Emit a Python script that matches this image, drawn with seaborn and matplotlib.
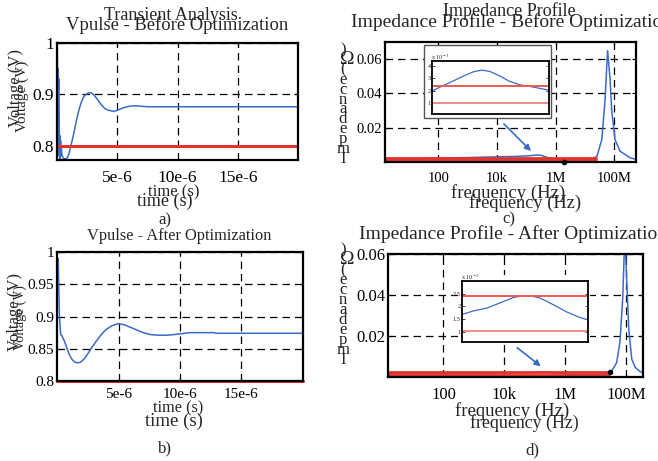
import numpy as np
import pandas as pd
import seaborn as sns
import matplotlib.pyplot as plt
from matplotlib.patches import Rectangle, FancyArrowPatch
from matplotlib.ticker import NullLocator

# ---- transient response (time in us, voltage in V)
t_before = [0, 0.03, 0.06, 0.1, 0.13, 0.16, 0.2, 0.23, 0.26, 0.3, 0.33, 0.36, 0.4, 0.45, 0.5,
            0.6, 0.75, 0.9, 1.05, 1.2, 1.4, 1.6, 1.8, 2.0, 2.2, 2.4, 2.6, 2.85, 3.1, 3.4, 3.7,
            4.0, 4.3, 4.75, 5.1, 5.5, 6.0, 6.5, 7.0, 7.6, 10, 15, 20]
v_before = [0.99, 0.99, 0.78, 0.95, 0.91, 0.93, 0.80, 0.82, 0.77, 0.81, 0.78, 0.80, 0.785, 0.78, 0.777,
            0.775, 0.775, 0.778, 0.79, 0.805, 0.825, 0.848, 0.868, 0.884, 0.895, 0.900, 0.903, 0.903, 0.898, 0.889, 0.879,
            0.872, 0.869, 0.867, 0.870, 0.874, 0.877, 0.878, 0.877, 0.876, 0.876, 0.876, 0.876]
t_after = [0, 0.1, 0.15, 0.2, 0.25, 0.3, 0.4, 0.6, 0.8, 1.0, 1.2, 1.4, 1.65, 1.9, 2.2, 2.5, 2.8,
           3.2, 3.6, 4.0, 4.5, 5.0, 5.5, 6.0, 6.5, 7.0, 7.6, 8.2, 9.0, 10.0, 10.8, 12.7, 13.0, 20.0]
v_after = [0.99, 0.99, 0.94, 0.90, 0.885, 0.872, 0.87, 0.862, 0.851, 0.841, 0.834, 0.830, 0.828, 0.829, 0.834, 0.842, 0.851,
           0.862, 0.872, 0.880, 0.886, 0.889, 0.887, 0.883, 0.879, 0.875, 0.872, 0.871, 0.871, 0.873, 0.875, 0.875, 0.874, 0.874]
v_limit = 0.8

# ---- impedance profile (Hz, Ohm)
freq_before = [1.5, 10, 100, 1e3, 1e4, 5e4, 1.2e5, 2e5, 2.5e5, 3.2e5, 4.5e5, 1e6, 3e6, 1e7, 2e7,
               2.6e7, 3.8e7, 4.9e7, 6e7, 7.3e7, 8.3e7, 1.08e8, 1.6e8, 3.5e8, 5.6e8]
z_before = [0.0019, 0.0020, 0.0022, 0.0026, 0.0030, 0.0033, 0.0036, 0.0040, 0.0041, 0.0039, 0.0030, 0.0015, 0.0008, 0.0012, 0.0022,
            0.0034, 0.013, 0.036, 0.065, 0.048, 0.030, 0.013, 0.0063, 0.0025, 0.0015]
freq_after = [1.5, 100, 1e4, 1e5, 2e5, 3e5, 1e6, 3e6, 1e7, 2e7, 3.4e7, 4.9e7, 6.3e7, 7.8e7, 9.1e7,
              1.05e8, 1.23e8, 1.54e8, 2.0e8, 2.9e8, 4.2e8]
z_after = [0.0016, 0.0017, 0.0019, 0.0023, 0.0024, 0.0023, 0.0016, 0.0010, 0.0009, 0.0015, 0.003, 0.007, 0.017, 0.039, 0.07,
           0.047, 0.023, 0.0087, 0.0047, 0.0026, 0.0015]
z_limits_before = [0.0024, 0.001]
z_limits_after = [0.0026, 0.0011]

# ---- zoomed insets (Hz, x1e-3 Ohm)
inset_freq_before = [1.0e5, 1.28e5, 1.62e5, 2.08e5, 2.42e5, 2.70e5, 2.98e5, 3.32e5, 3.66e5, 4.0e5, 4.34e5, 4.68e5, 5.0e5]
inset_z_before = [1.95, 2.29, 2.66, 3.18, 3.53, 3.66, 3.55, 3.18, 2.74, 2.47, 2.34, 2.18, 2.03]
inset_freq_after = [1.0e5, 1.35e5, 1.78e5, 2.21e5, 2.63e5, 2.95e5, 3.16e5, 3.48e5, 3.91e5, 4.33e5, 4.71e5, 5.0e5]
inset_z_after = [1.68, 1.82, 1.93, 2.14, 2.35, 2.42, 2.42, 2.33, 2.06, 1.78, 1.58, 1.47]
inset_limits_before = [2.4, 1.0]
inset_limits_after = [2.4, 1.05]

sns.set_theme(style="ticks")
plt.rcParams['font.family'] = ['Liberation Serif', 'DejaVu Serif']
plt.rcParams['mathtext.fontset'] = 'stix'

W, H = 658, 461
BLUE = '#3a6bc6'
RED = '#e2332b'
fig = plt.figure(figsize=(W / 100, H / 100), dpi=100)
fig.patch.set_facecolor('white')


def box(l, t, r, b):
    return [l / W, 1 - b / H, (r - l) / W, (b - t) / H]


def ftxt(x, y, s, size=12, **kw):
    fig.text(x / W, 1 - y / H, s, ha='center', va='center', fontsize=size, **kw)


def style(ax, size, xpad=6):
    for s in ax.spines.values():
        s.set_color('black')
        s.set_linewidth(1.6)
    ax.grid(True, color='black', linestyle=(0, (6, 4)), linewidth=0.9)
    ax.tick_params(direction='in', length=3, width=0.8, pad=2, labelsize=size,
                   top=True, right=True, colors='black')
    ax.tick_params(axis='x', pad=xpad)
    ax.set_facecolor('white')
    ax.set_xlabel('')
    ax.set_ylabel('')


# ---- a) transient before
ax_a = fig.add_axes(box(57, 43, 298, 160))
sns.lineplot(x=np.array(t_before) * 1e-6, y=v_before, ax=ax_a, color=BLUE, linewidth=1.1, estimator=None)
ax_a.axhline(v_limit, color=RED, linewidth=2.2)
ax_a.set_xlim(0, 2e-5)
ax_a.set_ylim(0.7725, 1.0)
ax_a.set_xticks([5e-6, 10e-6, 15e-6], labels=['5e-6', '10e-6', '15e-6'])
ax_a.set_yticks([0.8, 0.9, 1.0], labels=['0.8', '0.9', '1'])
style(ax_a, 12.5, xpad=7)

# ---- b) transient after
ax_b = fig.add_axes(box(57, 252, 303, 381))
sns.lineplot(x=np.array(t_after) * 1e-6, y=v_after, ax=ax_b, color=BLUE, linewidth=1.1, estimator=None)
ax_b.axhline(v_limit, color=RED, linewidth=2.2, clip_on=False)
ax_b.set_xlim(0, 2e-5)
ax_b.set_ylim(0.8, 1.0)
ax_b.set_xticks([5e-6, 10e-6, 15e-6], labels=['5e-6', '10e-6', '15e-6'])
ax_b.set_yticks([0.8, 0.85, 0.9, 0.95, 1.0], labels=['0.8', '0.85', '0.9', '0.95', '1'])
style(ax_b, 11, xpad=5)


def impedance(ax, freq, z, limits, f_end, xmax, ymax, size):
    sns.lineplot(x=freq, y=z, ax=ax, color=BLUE, linewidth=1.1, estimator=None)
    ax.hlines(limits, 1.5, f_end, color=RED, linewidth=2.0)
    ax.set_xscale('log')
    ax.set_xlim(1.5, xmax)
    ax.set_ylim(0, ymax)
    ax.set_xticks([1e2, 1e4, 1e6, 1e8], labels=['100', '10k', '1M', '100M'])
    ax.xaxis.set_minor_locator(NullLocator())
    ax.set_yticks([0.02, 0.04, 0.06], labels=['0.02', '0.04', '0.06'])
    style(ax, size, xpad=7)


def inset(rect, freq, z, limits, ylim, yt, ytl):
    ax = fig.add_axes(rect)
    ax.set_zorder(3)
    sns.lineplot(x=freq, y=z, ax=ax, color=BLUE, linewidth=0.9, estimator=None)
    ax.axhline(limits[0], color='#ee5a55', linewidth=1.4)
    ax.axhline(limits[1], color='#f08a86', linewidth=1.4)
    ax.set_xlim(freq[0], freq[-1])
    ax.set_ylim(*ylim)
    ax.set_xticks([])
    ax.set_yticks(yt, labels=ytl)
    ax.tick_params(direction='in', length=2, width=0.6, pad=1, labelsize=4.5, right=True)
    for s in ax.spines.values():
        s.set_color('black')
        s.set_linewidth(1.3)
    ax.set_facecolor('white')
    ax.set_xlabel('')
    ax.set_ylabel('')
    return ax


# ---- c) impedance before
ax_c = fig.add_axes(box(385, 42, 636, 162))
impedance(ax_c, freq_before, z_before, z_limits_before, 2.6e7, 5.6e8, 0.07, 10.5)
ax_c.plot([2e6], [0], 'o', color='black', markersize=3, clip_on=False, zorder=5)
fig.add_artist(Rectangle((424 / W, 1 - 118 / H), 127 / W, 73 / H, transform=fig.transFigure,
                         facecolor='white', edgecolor='#555555', linewidth=1.0, zorder=2))
inset(box(432, 61, 549, 114), inset_freq_before, inset_z_before, inset_limits_before,
      (0.1, 4.4), [1, 2, 3, 4], ['1', '2', '3', '4'])
ftxt(440, 57, 'x 10$^{-3}$', size=4.5)
fig.add_artist(FancyArrowPatch((502 / W, 1 - 122 / H), (533 / W, 1 - 153 / H), transform=fig.transFigure,
                               arrowstyle='-|>', mutation_scale=9, color=BLUE, linewidth=1.2, zorder=4))

# ---- d) impedance after
ax_d = fig.add_axes(box(388, 254, 643, 377))
impedance(ax_d, freq_after, z_after, z_limits_after, 3e7, 3.6e8, 0.06, 12)
ax_d.plot([3e7], [0.0024], 'o', color='black', markersize=3, zorder=5)
fig.add_artist(Rectangle((458 / W, 1 - 345 / H), 132 / W, 70 / H, transform=fig.transFigure,
                         facecolor='white', edgecolor='none', zorder=2))
inset(box(462, 281, 588, 342), inset_freq_after, inset_z_after, inset_limits_after,
      (0.6, 3.0), [1, 1.5, 2, 2.5], ['1', '1.5', '2', '2.5'])
ftxt(470, 277, 'x 10$^{-3}$', size=4.5)
fig.add_artist(FancyArrowPatch((515 / W, 1 - 346 / H), (543 / W, 1 - 368 / H), transform=fig.transFigure,
                               arrowstyle='-|>', mutation_scale=9, color=BLUE, linewidth=1.2, zorder=4))

# ---- overlapping titles / labels as in the scanned figure
ftxt(171, 16, 'Transient Analysis', size=13)
ftxt(177, 25, 'Vpulse - Before Optimization', size=13.4)
ftxt(174, 192, 'time (s)', size=12)
ftxt(165, 201, 'time (s)', size=13)
ftxt(165, 220, 'a)', size=12)
ftxt(16, 88, 'Voltage (V)', size=12, rotation=90)
ftxt(22, 96, 'Voltage (V)', size=11, rotation=90)

ftxt(179, 236, 'Vpulse - After Optimization', size=11.8)
ftxt(178, 408, 'time (s)', size=11.7)
ftxt(174, 421, 'time (s)', size=13.5)
ftxt(165, 448, 'b)', size=12)
ftxt(15, 312, 'Voltage (V)', size=12, rotation=90)
ftxt(20, 318, 'Voltage (V)', size=10, rotation=90)

ftxt(509, 11, 'Impedance Profile', size=13)
fig.text(351 / W, 1 - 22 / H, 'Impedance Profile - Before Optimization', ha='left', va='center', fontsize=14)
ftxt(508, 193, 'frequency (Hz)', size=13.5)
ftxt(525, 203, 'frequency (Hz)', size=13.2)
ftxt(509, 219, 'c)', size=12)

fig.text(359 / W, 1 - 234 / H, 'Impedance Profile - After Optimization', ha='left', va='center', fontsize=14)
ftxt(512, 411, 'frequency (Hz)', size=13.5)
ftxt(524, 423, 'frequency (Hz)', size=12.9)
ftxt(532, 450, 'd)', size=12)

ylab_chars = [')', 'Ω', '(', 'e', 'c', 'n', 'a', 'd', 'e', 'p', 'm', 'I']
for top, bottom in [(50, 159), (250, 360)]:
    step = (bottom - top) / (len(ylab_chars) - 1)
    for i, ch in enumerate(ylab_chars):
        ftxt(343 + (4 if ch == 'Ω' else 0), top + i * step, ch, size=14 if ch == 'Ω' else 12)

fig.savefig('out.png', dpi=100, facecolor='white')
